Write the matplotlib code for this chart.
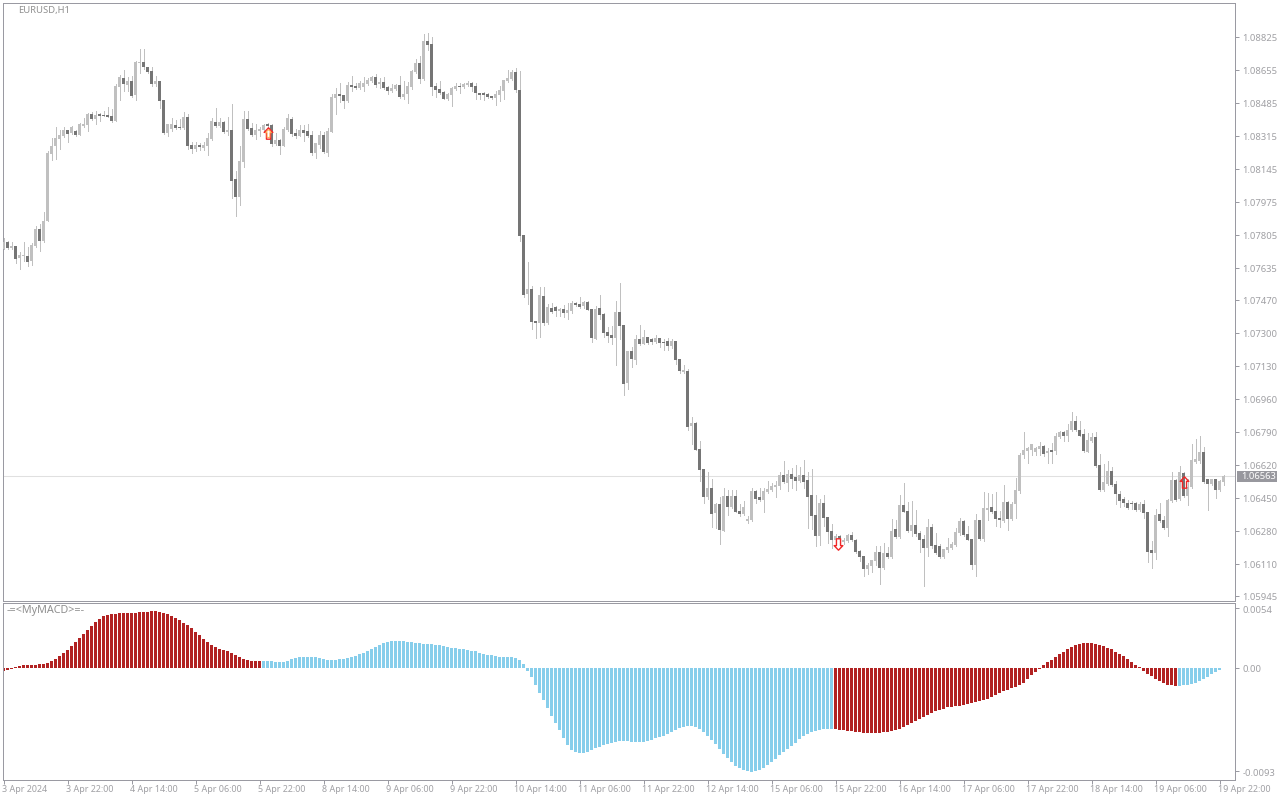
import numpy as np
import matplotlib
matplotlib.use("Agg")
import matplotlib.pyplot as plt
from matplotlib.patches import Rectangle
from matplotlib.path import Path
from matplotlib.transforms import ScaledTranslation

# EURUSD H1 candles, prices in points (1e-5), one line = 10 bars
highs = [
    107789, 107777, 107769, 107750, 107717, 107770, 107743, 107763, 107853, 107863,
    107925, 108239, 108306, 108363, 108347, 108363, 108347, 108368, 108347, 108383,
    108409, 108435, 108440, 108445, 108435, 108445, 108466, 108456, 108584, 108631,
    108656, 108620, 108626, 108703, 108765, 108765, 108672, 108672, 108626, 108600,
    108502, 108378, 108409, 108399, 108404, 108440, 108430, 108286, 108286, 108280,
    108286, 108332, 108409, 108461, 108409, 108394, 108414, 108481, 108136, 108265,
    108445, 108445, 108383, 108378, 108363, 108378, 108383, 108378, 108332, 108301,
    108363, 108430, 108414, 108352, 108373, 108373, 108378, 108342, 108280, 108342,
    108337, 108358, 108533, 108564, 108589, 108528, 108595, 108626, 108589, 108600,
    108620, 108615, 108626, 108636, 108615, 108620, 108574, 108584, 108584, 108626,
    108600, 108595, 108656, 108713, 108729, 108842, 108847, 108826, 108589, 108600,
    108548, 108538, 108569, 108589, 108589, 108589, 108600, 108595, 108589, 108538,
    108543, 108538, 108522, 108548, 108574, 108605, 108656, 108656, 108667, 108651,
    107807, 107668, 107544, 107364, 107539, 107539, 107451, 107456, 107441, 107431,
    107446, 107456, 107467, 107462, 107487, 107467, 107467, 107426, 107441, 107498,
    107405, 107333, 107338, 107467, 107559, 107343, 107209, 107230, 107292, 107343,
    107317, 107281, 107276, 107292, 107276, 107271, 107276, 107271, 107261, 107168,
    107137, 107116, 106869, 106843, 106745, 106601, 106586, 106550, 106426, 106457,
    106503, 106493, 106493, 106493, 106421, 106436, 106359, 106503, 106493, 106503,
    106503, 106539, 106529, 106539, 106586, 106642, 106596, 106606, 106622, 106611,
    106647, 106586, 106601, 106467, 106447, 106467, 106354, 106318, 106266, 106261,
    106246, 106266, 106277, 106241, 106184, 106153, 106117, 106132, 106204, 106204,
    106220, 106199, 106344, 106338, 106467, 106529, 106431, 106436, 106390, 106282,
    106261, 106344, 106318, 106271, 106215, 106189, 106246, 106225, 106297, 106349,
    106338, 106307, 106241, 106369, 106339, 106483, 106478, 106473, 106483, 106385,
    106519, 106436, 106431, 106555, 106684, 106792, 106715, 106730, 106715, 106740,
    106725, 106709, 106735, 106787, 106797, 106797, 106833, 106895, 106874, 106849,
    106807, 106787, 106787, 106792, 106679, 106627, 106643, 106612, 106539, 106488,
    106457, 106442, 106436, 106431, 106431, 106442, 106380, 106230, 106395, 106426,
    106359, 106447, 106586, 106550, 106617, 106586, 106550, 106730, 106756, 106771,
    106715, 106550, 106550, 106550, 106545, 106570,
]
lows = [
    107734, 107736, 107733, 107664, 107633, 107674, 107647, 107652, 107746, 107726,
    107770, 107879, 108193, 108198, 108249, 108311, 108286, 108327, 108316, 108322,
    108363, 108342, 108399, 108378, 108394, 108419, 108414, 108389, 108394, 108502,
    108548, 108548, 108517, 108502, 108641, 108662, 108641, 108574, 108574, 108461,
    108327, 108316, 108342, 108352, 108352, 108352, 108249, 108229, 108239, 108244,
    108244, 108219, 108296, 108363, 108363, 108332, 108322, 107997, 107904, 107961,
    108157, 108347, 108316, 108301, 108316, 108342, 108363, 108265, 108270, 108224,
    108265, 108342, 108316, 108306, 108316, 108291, 108311, 108219, 108203, 108255,
    108229, 108213, 108337, 108430, 108492, 108461, 108492, 108548, 108559, 108559,
    108548, 108579, 108595, 108569, 108564, 108559, 108533, 108543, 108553, 108512,
    108507, 108486, 108559, 108641, 108589, 108605, 108759, 108528, 108517, 108533,
    108507, 108502, 108471, 108553, 108538, 108564, 108574, 108548, 108507, 108507,
    108502, 108512, 108507, 108476, 108497, 108507, 108595, 108605, 108543, 107778,
    107487, 107451, 107322, 107276, 107281, 107343, 107348, 107405, 107389, 107389,
    107384, 107374, 107405, 107441, 107431, 107431, 107420, 107256, 107271, 107374,
    107281, 107256, 107245, 107137, 107271, 106982, 107013, 107127, 107142, 107240,
    107245, 107245, 107245, 107250, 107230, 107214, 107214, 107225, 107142, 107096,
    107096, 106802, 106730, 106699, 106539, 106426, 106447, 106302, 106297, 106215,
    106282, 106364, 106400, 106380, 106359, 106364, 106323, 106333, 106426, 106436,
    106380, 106477, 106488, 106457, 106498, 106529, 106488, 106503, 106493, 106534,
    106503, 106297, 106292, 106204, 106210, 106307, 106220, 106194, 106210, 106199,
    106215, 106225, 106230, 106168, 106127, 106050, 106060, 106071, 106107, 106009,
    106086, 106143, 106143, 106246, 106246, 106380, 106277, 106256, 106256, 106174,
    105998, 106153, 106194, 106163, 106143, 106143, 106174, 106189, 106204, 106261,
    106256, 106235, 106086, 106050, 106236, 106230, 106339, 106375, 106308, 106303,
    106328, 106287, 106339, 106349, 106478, 106658, 106632, 106673, 106673, 106673,
    106668, 106632, 106632, 106679, 106761, 106746, 106746, 106797, 106797, 106771,
    106689, 106689, 106740, 106612, 106488, 106488, 106519, 106514, 106421, 106406,
    106411, 106395, 106395, 106385, 106385, 106349, 106122, 106091, 106138, 106328,
    106292, 106256, 106431, 106436, 106442, 106457, 106416, 106503, 106632, 106632,
    106529, 106390, 106519, 106452, 106488, 106519,
]
body_tops = [
    107772, 107770, 107750, 107750, 107703, 107703, 107698, 107755, 107837, 107837,
    107879, 108229, 108265, 108306, 108322, 108347, 108347, 108363, 108342, 108378,
    108378, 108430, 108430, 108425, 108430, 108425, 108425, 108419, 108574, 108620,
    108615, 108600, 108600, 108698, 108698, 108698, 108672, 108651, 108600, 108600,
    108502, 108378, 108378, 108373, 108363, 108414, 108414, 108270, 108270, 108270,
    108270, 108306, 108394, 108389, 108389, 108389, 108347, 108347, 108095, 108188,
    108404, 108404, 108358, 108347, 108352, 108373, 108378, 108373, 108296, 108296,
    108352, 108409, 108404, 108332, 108347, 108347, 108342, 108322, 108280, 108322,
    108322, 108342, 108517, 108533, 108533, 108528, 108579, 108579, 108574, 108589,
    108589, 108605, 108620, 108620, 108595, 108595, 108569, 108564, 108579, 108579,
    108533, 108574, 108651, 108692, 108692, 108806, 108806, 108790, 108574, 108559,
    108543, 108533, 108564, 108574, 108574, 108584, 108589, 108589, 108574, 108538,
    108538, 108533, 108522, 108533, 108553, 108605, 108615, 108646, 108646, 108553,
    107807, 107529, 107529, 107364, 107498, 107492, 107436, 107431, 107436, 107426,
    107426, 107420, 107456, 107456, 107451, 107462, 107462, 107426, 107426, 107431,
    107400, 107307, 107292, 107410, 107410, 107343, 107209, 107209, 107271, 107271,
    107281, 107281, 107271, 107276, 107276, 107256, 107261, 107261, 107261, 107168,
    107111, 107106, 106838, 106838, 106704, 106601, 106503, 106503, 106421, 106421,
    106462, 106462, 106462, 106462, 106385, 106405, 106344, 106488, 106488, 106457,
    106488, 106498, 106514, 106519, 106570, 106570, 106575, 106575, 106560, 106570,
    106570, 106544, 106467, 106364, 106426, 106426, 106354, 106282, 106256, 106256,
    106235, 106261, 106261, 106235, 106179, 106153, 106107, 106132, 106174, 106174,
    106168, 106168, 106282, 106292, 106416, 106416, 106385, 106313, 106313, 106271,
    106241, 106302, 106302, 106210, 106204, 106189, 106199, 106215, 106277, 106333,
    106333, 106266, 106241, 106339, 106339, 106400, 106400, 106406, 106385, 106349,
    106431, 106431, 106421, 106493, 106673, 106699, 106709, 106730, 106709, 106720,
    106720, 106694, 106699, 106771, 106792, 106792, 106802, 106849, 106849, 106802,
    106782, 106751, 106766, 106766, 106622, 106534, 106591, 106591, 106524, 106473,
    106447, 106426, 106426, 106426, 106421, 106421, 106380, 106184, 106364, 106369,
    106339, 106442, 106545, 106545, 106586, 106581, 106509, 106648, 106653, 106689,
    106689, 106550, 106550, 106550, 106539, 106565,
]
body_bottoms = [
    107734, 107739, 107739, 107683, 107688, 107697, 107667, 107672, 107750, 107775,
    107775, 107879, 108224, 108265, 108301, 108316, 108327, 108332, 108322, 108322,
    108368, 108373, 108404, 108404, 108419, 108419, 108414, 108394, 108394, 108569,
    108584, 108579, 108522, 108528, 108692, 108672, 108646, 108584, 108584, 108497,
    108332, 108332, 108352, 108358, 108358, 108358, 108265, 108249, 108249, 108260,
    108255, 108265, 108301, 108368, 108368, 108337, 108337, 108085, 108002, 108002,
    108182, 108352, 108322, 108322, 108342, 108347, 108368, 108275, 108275, 108265,
    108265, 108347, 108327, 108316, 108316, 108332, 108316, 108229, 108229, 108270,
    108234, 108229, 108337, 108512, 108522, 108497, 108497, 108569, 108564, 108564,
    108569, 108584, 108600, 108579, 108584, 108564, 108548, 108548, 108559, 108517,
    108517, 108533, 108569, 108646, 108610, 108610, 108785, 108569, 108553, 108538,
    108507, 108507, 108528, 108559, 108569, 108569, 108579, 108569, 108538, 108528,
    108528, 108517, 108512, 108512, 108528, 108548, 108600, 108610, 108553, 107803,
    107498, 107503, 107359, 107353, 107353, 107353, 107353, 107410, 107415, 107415,
    107405, 107405, 107415, 107446, 107436, 107441, 107420, 107276, 107271, 107395,
    107302, 107286, 107276, 107276, 107338, 107039, 107044, 107168, 107163, 107245,
    107245, 107250, 107256, 107256, 107250, 107250, 107235, 107235, 107163, 107106,
    107101, 106818, 106823, 106699, 106596, 106457, 106457, 106369, 106374, 106287,
    106282, 106405, 106405, 106380, 106369, 106369, 106333, 106338, 106447, 106441,
    106441, 106483, 106493, 106508, 106514, 106534, 106529, 106550, 106539, 106539,
    106534, 106457, 106359, 106256, 106256, 106349, 106277, 106235, 106235, 106210,
    106225, 106230, 106235, 106174, 106148, 106086, 106086, 106101, 106127, 106091,
    106091, 106148, 106148, 106251, 106251, 106380, 106282, 106282, 106266, 106235,
    106194, 106194, 106204, 106168, 106148, 106148, 106184, 106194, 106210, 106271,
    106261, 106235, 106107, 106107, 106241, 106241, 106390, 106380, 106344, 106339,
    106333, 106344, 106344, 106421, 106488, 106673, 106694, 106699, 106689, 106704,
    106679, 106684, 106689, 106694, 106766, 106771, 106771, 106802, 106802, 106771,
    106694, 106689, 106746, 106617, 106493, 106493, 106524, 106519, 106473, 106436,
    106426, 106400, 106421, 106390, 106390, 106375, 106174, 106169, 106169, 106333,
    106297, 106297, 106436, 106442, 106447, 106462, 106462, 106509, 106637, 106643,
    106534, 106524, 106524, 106493, 106493, 106534,
]
# L = up bar (light), D = down bar (dark)
directions = (
    "LDLDLLDLLD" "LLLLLLDLDL" "LLDLDDDDLL" "DLDLLDDDLD" "DLLDDLDDLD"
    "LLLDLDLDDL" "LDDLLLDDLD" "LLDDLDDDLL" "DLLLDDLDDL" "LLLDLDDLLD"
    "LLLLDLDDDD" "DLLLDLLDDD" "DDDLLLLLDD"
    "DLDDLDLDDL" "DLLDDLDDLD" "DDDLDDLDLD" "LDDLDDDLDD" "LDLDDDLDLD"
    "LDLDDLLLDD" "LLLLLDLDDL" "DDDDLDDDLD" "LLDDDDLLLD" "LDLDLDDLDD"
    "DLDDDLLLLL" "DDDLDLLDDD" "LDLLLLLLLL" "DLDLLDLLDD" "DLLDDLLDDD"
    "DDDDLDDDLD" "DLLDLDLLLL" "DDLDLL"
)
last_price = 1.06563

# MyMACD histogram, in units of 1e-5
macd_values = [
    -27, -18, -9, 9, 18, 27, 27, 27, 27, 36,
    36, 45, 63, 81, 108, 135, 162, 198, 234, 270,
    306, 342, 378, 414, 441, 468, 477, 486, 486, 495,
    495, 495, 495, 495, 504, 504, 504, 513, 513, 504,
    495, 486, 468, 450, 432, 405, 387, 360, 324, 297,
    261, 234, 207, 189, 171, 162, 153, 135, 117, 99,
    81, 72, 63, 63, 63, 63, 63, 63, 54, 54,
    54, 63, 81, 90, 99, 99, 99, 99, 99, 90,
    81, 72, 72, 72, 81, 81, 90, 99, 108, 126,
    135, 153, 171, 189, 207, 225, 234, 243, 243, 243,
    243, 234, 234, 225, 225, 216, 216, 216, 207, 207,
    198, 189, 180, 180, 171, 171, 162, 153, 153, 135,
    126, 117, 117, 108, 99, 99, 99, 99, 90, 72,
    36, -27, -81, -153, -225, -288, -360, -432, -495, -558,
    -630, -693, -738, -756, -765, -765, -756, -738, -720, -711,
    -693, -684, -675, -666, -657, -657, -657, -666, -666, -666,
    -666, -657, -648, -630, -621, -612, -594, -576, -558, -540,
    -531, -522, -522, -531, -549, -576, -612, -648, -684, -729,
    -774, -810, -846, -882, -900, -918, -927, -936, -927, -918,
    -900, -873, -846, -819, -783, -756, -729, -702, -675, -639,
    -612, -594, -576, -567, -558, -549, -549, -549, -549, -558,
    -558, -567, -567, -576, -576, -585, -585, -585, -585, -585,
    -576, -576, -567, -558, -549, -531, -513, -495, -477, -459,
    -441, -423, -405, -387, -378, -369, -351, -351, -342, -342,
    -333, -324, -315, -306, -297, -288, -279, -261, -243, -225,
    -207, -198, -180, -171, -153, -135, -99, -63, -36, -9,
    27, 54, 72, 99, 126, 144, 171, 189, 207, 216,
    225, 225, 225, 216, 207, 198, 180, 171, 144, 126,
    108, 81, 54, 27, 9, -27, -54, -72, -99, -117,
    -135, -153, -153, -162, -162, -153, -153, -144, -135, -117,
    -99, -81, -54, -36, -18,
]
# first bar of each colour run
macd_runs = [(0, "red"), (65, "blue"), (208, "red"), (294, "blue")]

# arrow signals: bar, price in points, up/down
signal_bars = [66, 208.6, 295]
signal_prices = [108333, 106216, 106536]
signal_dirs = ["up", "down", "up"]

price_ticks = [1.08825, 1.08655, 1.08485, 1.08315, 1.08145, 1.07975, 1.07805, 1.07635, 1.07470,
               1.07300, 1.07130, 1.06960, 1.06790, 1.06620, 1.06450, 1.06280, 1.06110, 1.05945]
macd_ticks = [0.0054, 0.0, -0.0093]
macd_tick_labels = ["0.0054", "0.00", "-0.0093"]
time_labels = ["3 Apr 2024", "3 Apr 22:00", "4 Apr 14:00", "5 Apr 06:00", "5 Apr 22:00",
               "8 Apr 14:00", "9 Apr 06:00", "9 Apr 22:00", "10 Apr 14:00", "11 Apr 06:00",
               "11 Apr 22:00", "12 Apr 14:00", "15 Apr 06:00", "15 Apr 22:00", "16 Apr 14:00",
               "17 Apr 06:00", "17 Apr 22:00", "18 Apr 14:00", "19 Apr 06:00", "19 Apr 22:00"]
time_step = 16

LIGHT = "#c0c0c0"
DARK = "#757575"
RED = "#b22222"
BLUE = "#87ceeb"
FRAME = "#9a9aa2"
TEXT = "#a0a0a4"

plt.rcParams["font.family"] = ["Noto Sans", "DejaVu Sans"]
W, H = 1280, 800
fig = plt.figure(figsize=(W / 100, H / 100), dpi=100, facecolor="white")


def pane(top, bottom):
    return fig.add_axes([2.5 / W, 1 - bottom / H, (1234.5 - 2.5) / W, (bottom - top) / H])


ax = pane(2.5, 600.5)
ax2 = pane(602.5, 779.5)

highs = np.array(highs) / 1e5
lows = np.array(lows) / 1e5
body_tops = np.array(body_tops) / 1e5
body_bottoms = np.array(body_bottoms) / 1e5
x = np.arange(len(highs))
up = np.array([d == "L" for d in directions])
colors = np.where(up, LIGHT, DARK)

ax.axhline(last_price, color="#e0e0e0", lw=0.75, zorder=1)
ax.vlines(x, lows, highs, colors=LIGHT, lw=0.72, antialiased=False, zorder=2)
ax.bar(x, body_tops - body_bottoms, bottom=body_bottoms, width=0.78, color=colors,
       antialiased=False, zorder=3)

arrow_up = Path([(0, 1), (0.76, 0.2), (0.36, 0.2), (0.36, -1), (-0.36, -1), (-0.36, 0.2),
                 (-0.76, 0.2), (0, 1)], closed=True)
arrow_down = Path([(0, -1), (0.76, -0.2), (0.36, -0.2), (0.36, 1), (-0.36, 1), (-0.36, -0.2),
                   (-0.76, -0.2), (0, -1)], closed=True)
for n, (bar, price, kind) in enumerate(zip(signal_bars, signal_prices, signal_dirs)):
    marker = arrow_up if kind == "up" else arrow_down
    face = "none" if n == 2 else "white"
    ax.plot([bar], [price / 1e5], marker=marker, ms=8.2, mfc=face, mec="#f02828", mew=1.0,
            ls="none", zorder=4)
    if n == 0:
        # the first arrow has an orange inner edge
        ax.plot([bar], [price / 1e5], marker=marker, ms=5.6, mfc="white", mec="#ffa850", mew=0.7,
                ls="none", zorder=5)

ax.set_xlim(-0.25, 307.75)
ax.set_ylim(1.059235, 1.090041)
ax.set_xticks([])
ax.yaxis.tick_right()
ax.set_yticks(price_ticks)
ax.set_yticklabels([f"{p:.5f}" for p in price_ticks])
fig.text(18 / W, 1 - 10 / H, "EURUSD,H1", color="#909090", fontsize=6.8, ha="left", va="center")

# current price tag
fig.add_artist(Rectangle((1236.5 / W, 1 - 482 / H), 40 / W, 11 / H, transform=fig.transFigure,
                         fc="#98989e", ec="none", zorder=5))
fig.text(1241 / W, 1 - 476.5 / H, "1.06563", color="white", fontsize=6.8, ha="left", va="center",
         zorder=6)

macd = np.array(macd_values) / 1e5
macd_x = np.arange(len(macd))
macd_colors = [RED] * len(macd)
for k, (start, name) in enumerate(macd_runs):
    stop = macd_runs[k + 1][0] if k + 1 < len(macd_runs) else len(macd)
    for j in range(start, stop):
        macd_colors[j] = RED if name == "red" else BLUE
ax2.bar(macd_x, macd, width=0.78, color=macd_colors, antialiased=False)
ax2.set_xlim(-0.25, 307.75)
ax2.set_ylim(-0.010045, 0.0059009)
ax2.yaxis.tick_right()
ax2.set_yticks(macd_ticks)
ax2.set_yticklabels(macd_tick_labels)
ax2.set_xticks(np.arange(len(time_labels)) * time_step)
ax2.set_xticklabels(time_labels, ha="left")
fig.text(7 / W, 1 - 611 / H, "-=<MyMACD>=-", color="#909090", fontsize=7.8, ha="left", va="center")

for a in (ax, ax2):
    for s in a.spines.values():
        s.set_color(FRAME)
        s.set_linewidth(0.72)
    a.tick_params(axis="y", length=3, width=0.72, color=FRAME, labelcolor=TEXT, labelsize=6.8, pad=2.5)
    a.tick_params(axis="x", length=3, width=0.72, color=FRAME, labelcolor=TEXT, labelsize=6.45, pad=1)

# the sub window labels sit a little under their ticks
down_shift = ScaledTranslation(0, -1.2 / 100, fig.dpi_scale_trans)
labels = ax2.get_yticklabels()
for lab in (labels[0], labels[2]):
    lab.set_transform(lab.get_transform() + down_shift)
left_shift = ScaledTranslation(-1 / 100, 0, fig.dpi_scale_trans)
for lab in ax2.get_xticklabels():
    lab.set_transform(lab.get_transform() + left_shift)

fig.savefig("out.png", dpi=100, facecolor="white")
